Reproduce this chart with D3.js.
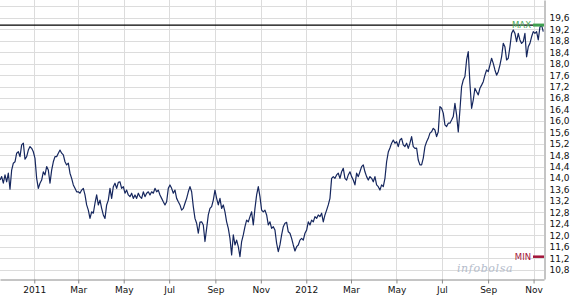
<!DOCTYPE html>
<html><head><meta charset="utf-8">
<script src="https://cdn.jsdelivr.net/npm/d3@7"></script>
<style>html,body{margin:0;padding:0;background:#fff;}svg{display:block;}</style>
</head><body>
<svg id="chart" width="576" height="295"></svg>
<script>
const firstDate = "2010-11-16";
const lastDate = "2012-11-14";
const domainStart = "2010-11-16";
const domainEnd = "2012-11-15";
const values = [
13.93,14.05,13.82,14.11,13.87,14.17,13.61,14.28,14.52,14.57,14.87,14.92,14.75,15.16,15.22,14.66,14.75,14.98,15.10,15.04,
14.92,14.69,13.99,13.64,13.82,13.93,14.22,14.11,14.40,14.28,13.82,14.28,14.57,14.75,14.75,14.87,14.98,14.87,14.81,14.57,
14.46,14.52,14.17,13.99,13.76,13.64,13.52,13.52,13.47,13.58,13.64,13.41,13.06,12.88,12.59,12.82,12.77,13.12,13.41,13.06,
13.23,12.94,12.71,12.59,13.06,13.23,13.64,13.29,13.70,13.82,13.64,13.85,13.87,13.64,13.70,13.47,13.58,13.41,13.35,13.47,
13.29,13.41,13.29,13.47,13.35,13.29,13.52,13.35,13.47,13.52,13.41,13.52,13.47,13.64,13.52,13.58,13.41,13.29,13.17,13.06,
13.17,13.64,13.76,13.64,13.47,13.58,13.29,13.17,13.06,12.88,12.94,13.12,13.29,13.52,13.70,13.52,13.00,12.59,12.42,12.07,
12.46,12.47,12.36,11.78,12.24,12.71,12.94,13.00,13.23,13.58,13.29,13.06,13.29,12.94,13.06,12.82,12.47,12.24,11.89,11.31,
12.01,11.66,11.83,11.60,11.25,11.78,12.01,12.30,12.53,12.47,12.65,12.82,12.36,12.94,13.41,13.70,13.35,12.88,12.82,12.88,
12.71,12.36,12.47,12.24,12.30,12.18,11.72,11.43,11.66,12.01,12.30,12.42,12.45,12.12,12.07,11.89,11.66,11.45,11.60,11.66,
11.83,11.89,11.83,12.07,12.18,12.47,12.36,12.53,12.47,12.65,12.59,12.71,12.65,12.77,12.47,12.71,12.88,13.06,13.29,13.99,
14.05,13.99,14.11,14.17,13.99,14.22,14.34,13.99,13.93,14.11,14.22,14.05,13.93,13.76,14.17,14.05,14.22,14.40,14.46,14.22,
14.05,13.93,14.05,13.99,13.87,14.05,13.76,13.70,13.58,13.76,13.70,13.99,14.57,14.91,15.05,15.22,15.33,15.22,15.27,15.10,
15.33,15.39,15.16,15.10,15.22,15.04,15.22,15.45,15.10,15.04,15.05,14.63,14.46,14.46,14.70,15.10,15.27,15.39,15.57,15.62,
15.74,15.68,15.45,15.62,16.50,16.44,16.27,15.86,15.80,15.92,15.92,16.03,16.15,16.61,16.21,15.61,16.38,17.20,17.43,17.55,
18.13,18.42,17.31,16.44,16.73,17.14,17.02,16.91,17.14,17.25,17.37,17.60,17.78,17.72,17.95,18.19,18.01,17.78,17.60,17.72,
17.95,18.24,18.71,18.59,18.13,18.19,18.59,19.06,19.18,19.06,18.77,19.06,18.83,18.71,18.77,19.06,18.24,18.59,18.71,18.94,
19.12,19.06,19.12,18.83,19.28,19.35,19.12
];
const xTickDates = ["2011-01-01","2011-03-01","2011-05-01","2011-07-01","2011-09-01","2011-11-01","2012-01-01","2012-03-01","2012-05-01","2012-07-01","2012-09-01","2012-11-01"];
const xTickLabels = ["2011","Mar","May","Jul","Sep","Nov","2012","Mar","May","Jul","Sep","Nov"];
const yTicks = [10.8,11.2,11.6,12.0,12.4,12.8,13.2,13.6,14.0,14.4,14.8,15.2,15.6,16.0,16.4,16.8,17.2,17.6,18.0,18.4,18.8,19.2,19.6];
const yGridTicks = [10.8,11.2,11.6,12.0,12.4,12.8,13.2,13.6,14.0,14.4,14.8,15.2,15.6,16.0,16.4,16.8,17.2,17.6,18.0,18.4,18.8,19.2,19.6,20.0];
const yDomain = [10.47, 20.227];

const parse = d3.utcParse("%Y-%m-%d");
const t0 = parse(firstDate).getTime(), t1 = parse(lastDate).getTime();
const data = values.map((v, i) => ({date: new Date(t0 + (t1 - t0) * i / (values.length - 1)), value: v}));

const W = 544, H = 279;
const svg = d3.select("#chart");
const x = d3.scaleUtc().domain([parse(domainStart), parse(domainEnd)]).range([0, W]);
const y = d3.scaleLinear().domain(yDomain).range([H, 0]);
const fmt = v => d3.format(".1f")(v).replace(".", ",");
const font = "'DejaVu Sans', Verdana, sans-serif";

// grid
svg.append("g").selectAll("line").data(yGridTicks).join("line")
  .attr("x1", 0).attr("x2", W)
  .attr("y1", d => Math.round(y(d)) + 0.5).attr("y2", d => Math.round(y(d)) + 0.5)
  .attr("stroke", "#dcdcdc").attr("stroke-width", 1);
svg.append("g").selectAll("line").data(xTickDates).join("line")
  .attr("x1", d => Math.round(x(parse(d))) + 0.5).attr("x2", d => Math.round(x(parse(d))) + 0.5)
  .attr("y1", 0).attr("y2", H)
  .attr("stroke", "#dcdcdc").attr("stroke-width", 1);

// watermark
svg.append("text").attr("x", 485).attr("y", 272).attr("text-anchor", "middle")
  .attr("font-family", "'DejaVu Serif', serif").attr("font-style", "italic")
  .attr("font-size", 11).attr("letter-spacing", 0.6).attr("fill", "#b4bccb").text("infobolsa");

// x axis
const xAxis = d3.axisBottom(x).tickValues(xTickDates.map(parse))
  .tickFormat((d, i) => xTickLabels[i]).tickSize(4).tickSizeOuter(0).tickPadding(3);
const gx = svg.append("g").attr("transform", `translate(0,${H + 0.5})`).call(xAxis);
gx.select(".domain").attr("stroke", "#8a8a8a");
gx.selectAll(".tick line").attr("stroke", "#8a8a8a");
gx.selectAll("text").attr("font-family", font).attr("font-size", 9).attr("fill", "#111");

// y axis (right)
const yAxis = d3.axisRight(y).tickValues(yTicks).tickFormat(fmt).tickSize(0).tickSizeOuter(0).tickPadding(5);
const gy = svg.append("g").attr("transform", `translate(${W + 0.5},0)`).call(yAxis);
gy.select(".domain").attr("stroke", "#8a8a8a");
gy.selectAll("text").attr("font-family", font).attr("font-size", 9).attr("fill", "#111");

// MAX line
const maxV = d3.max(values), minV = d3.min(values);
svg.append("line").attr("x1", 0).attr("x2", W).attr("y1", y(maxV)).attr("y2", y(maxV))
  .attr("stroke", "#000").attr("stroke-width", 1.3);

// series
const line = d3.line().x(d => x(d.date)).y(d => y(d.value));
svg.append("path").datum(data).attr("d", line).attr("fill", "none")
  .attr("stroke", "#16275e").attr("stroke-width", 1.2).attr("stroke-linejoin", "round");

// MAX marker
svg.append("line").attr("x1", W - 11).attr("x2", W).attr("y1", y(maxV)).attr("y2", y(maxV))
  .attr("stroke", "#3f9f50").attr("stroke-width", 3);
svg.append("text").attr("x", W - 13).attr("y", y(maxV) + 3).attr("text-anchor", "end")
  .attr("font-family", font).attr("font-size", 8.5).attr("fill", "#4aa85a").text("MAX");

// MIN marker
svg.append("line").attr("x1", W - 11).attr("x2", W).attr("y1", y(minV)).attr("y2", y(minV))
  .attr("stroke", "#a3153a").attr("stroke-width", 2.5);
svg.append("text").attr("x", W - 13).attr("y", y(minV) + 3).attr("text-anchor", "end")
  .attr("font-family", font).attr("font-size", 8.5).attr("fill", "#a3153a").text("MIN");
</script>
</body></html>
